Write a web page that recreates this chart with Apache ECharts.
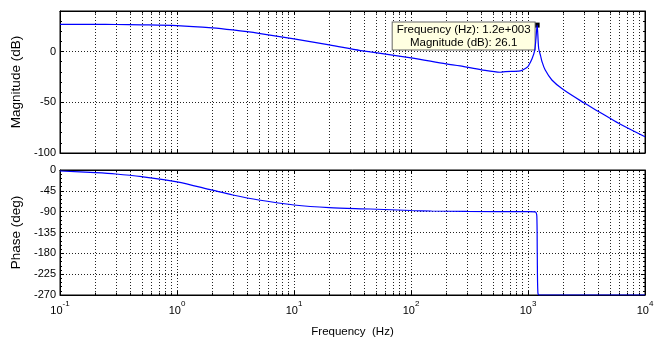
<!DOCTYPE html>
<html><head><meta charset="utf-8">
<script src="https://cdn.jsdelivr.net/npm/echarts@6/dist/echarts.min.js"></script>
<style>html,body{margin:0;padding:0;background:#fff}#c{width:667px;height:340px}</style>
</head><body><div id="c"></div>
<script>
// ---- data ----
const magFreq = [0.1, 0.2, 0.3, 0.5, 1, 2, 3, 5, 10, 20, 37, 45, 100, 200, 263, 400, 580, 641, 860, 985, 1010, 1083, 1140, 1170, 1197, 1234, 1280, 1318, 1400, 1600, 2000, 3000, 4000, 6000, 10000];
const magDb   = [26.9, 26.9, 26.7, 26.4, 25.6, 23.4, 21.3, 18.0, 12.5, 6.6, 1.0, -0.3, -6.2, -12.1, -14.1, -18.0, -20.4, -19.7, -19.0, -15.5, -14.0, -7.0, 1.0, 13.0, 26.1, 3.0, -4.0, -10.0, -18.0, -28.0, -37.5, -50.5, -59.0, -71.0, -84.0];
const phaseFreq = [0.1, 0.2, 0.3, 0.5, 1, 2, 3, 5, 10, 20, 45, 100, 150, 300, 1000, 1150, 1190, 1200, 1215, 1250, 10000];
const phaseDeg  = [-2.2, -5.8, -8.6, -14.4, -25.5, -43.5, -54, -64.8, -75.6, -81.4, -84.2, -87.5, -88.6, -89.5, -90, -90.5, -100, -180, -265, -270, -270];
const minorFreqs = [0.2,0.3,0.4,0.5,0.6,0.7,0.8,0.9, 2,3,4,5,6,7,8,9, 20,30,40,50,60,70,80,90, 200,300,400,500,600,700,800,900, 2000,3000,4000,5000,6000,7000,8000,9000];
const peakFreq = 1197, peakDb = 26.1;
const peakLabel = ['Frequency (Hz): 1.2e+003', 'Magnitude (dB): 26.1'];

const FONT = '"Liberation Sans", Arial, sans-serif';
const gridLine = {show: true, lineStyle: {color: '#222', type: [1, 2], width: 1}};
const axisLineBlack = {show: true, onZero: false, lineStyle: {color: '#000', width: 1}};
const tickIn = {show: true, inside: true, length: 4, lineStyle: {color: '#000'}};
const minorIn = {show: true, splitNumber: 5, length: 2, lineStyle: {color: '#000'}};

function xLabel(v) {
  const e = Math.round(Math.log10(v));
  return '{b|10}{s|' + e + '}';
}
const xRich = {
  b: {fontSize: 11, fontFamily: FONT, color: '#000', lineHeight: 16, verticalAlign: 'bottom'},
  s: {fontSize: 8, fontFamily: FONT, color: '#000', lineHeight: 16, verticalAlign: 'top'}
};
function xAxisCfg(grid, withLabels, pos) {
  return {
    type: 'log', logBase: 10, gridIndex: grid, min: 0.1, max: 10000, position: pos,
    axisLine: axisLineBlack, axisTick: tickIn,
    splitLine: pos === 'bottom' ? gridLine : {show: false},
    axisLabel: withLabels ? {show: true, formatter: xLabel, rich: xRich, margin: 5} : {show: false},
    name: withLabels ? 'Frequency  (Hz)' : '', nameLocation: 'middle', nameGap: 31,
    nameTextStyle: {fontSize: 11.5, fontFamily: FONT, color: '#000'}
  };
}
function yAxisCfg(grid, min, max, interval, name, pos) {
  const left = pos === 'left';
  return {
    type: 'value', gridIndex: grid, min: min, max: max, interval: interval, position: pos,
    axisLine: axisLineBlack, axisTick: tickIn, minorTick: minorIn,
    splitLine: left ? gridLine : {show: false},
    axisLabel: left ? {show: true, fontSize: 11, fontFamily: FONT, color: '#000', margin: 4,
      formatter: v => (v % interval === 0 ? String(v) : '')} : {show: false},
    name: left ? name : '', nameLocation: 'middle', nameGap: 24,
    nameTextStyle: {fontSize: 13.5, fontFamily: FONT, color: '#000'}
  };
}

// dotted minor grid lines plus short minor ticks on top and bottom frame edges
function minorMarks(yMin, yMax, tickLen) {
  const data = minorFreqs.map(f => ({xAxis: f}));
  const tickStyle = {type: 'solid', color: '#000', width: 1};
  minorFreqs.forEach(f => {
    data.push([{coord: [f, yMin], lineStyle: tickStyle}, {coord: [f, yMin + tickLen]}]);
    data.push([{coord: [f, yMax], lineStyle: tickStyle}, {coord: [f, yMax - tickLen]}]);
  });
  return {
    silent: true, symbol: 'none', animation: false,
    label: {show: false},
    lineStyle: {color: '#222', type: [1, 2], width: 1},
    data: data
  };
}

const chart = echarts.init(document.getElementById('c'), null, {renderer: 'canvas'});
chart.setOption({
  animation: false,
  backgroundColor: '#fff',
  grid: [
    {left: 60, right: 22, top: 11, height: 142, show: true, borderColor: '#000', borderWidth: 1},
    {left: 60, right: 22, top: 170, height: 125, show: true, borderColor: '#000', borderWidth: 1}
  ],
  xAxis: [
    xAxisCfg(0, false, 'bottom'),
    xAxisCfg(1, true, 'bottom'),
    xAxisCfg(0, false, 'top'),
    xAxisCfg(1, false, 'top')
  ],
  yAxis: [
    yAxisCfg(0, -100, 40, 50, 'Magnitude (dB)', 'left'),
    yAxisCfg(1, -270, 0, 45, 'Phase (deg)', 'left'),
    yAxisCfg(0, -100, 40, 50, '', 'right'),
    yAxisCfg(1, -270, 0, 45, '', 'right')
  ],
  series: [
    {
      type: 'line', xAxisIndex: 0, yAxisIndex: 0, showSymbol: false, symbol: 'none',
      smooth: 0.3,
      data: magFreq.map((f, i) => [f, magDb[i]]),
      lineStyle: {color: '#0000ff', width: 1.2}, z: 5,
      markLine: minorMarks(-100, 40, 2.5),
      markPoint: {
        symbol: 'rect', symbolSize: 5, itemStyle: {color: '#000'},
        data: [{coord: [peakFreq, peakDb]}],
        label: {
          show: true, position: 'left', distance: 0, offset: [-71, 11],
          formatter: peakLabel.join('\n'), align: 'center',
          fontSize: 11.5, fontFamily: FONT, color: '#000', lineHeight: 12.5,
          backgroundColor: '#ffffe1', borderColor: '#666', borderWidth: 1, padding: [1, 4]
        }
      }
    },
    {
      type: 'line', xAxisIndex: 1, yAxisIndex: 1, showSymbol: false, symbol: 'none',
      smooth: 0.3,
      data: phaseFreq.map((f, i) => [f, phaseDeg[i]]),
      lineStyle: {color: '#0000ff', width: 1.2}, z: 5,
      markLine: minorMarks(-270, 0, 5)
    }
  ]
});
</script></body></html>
